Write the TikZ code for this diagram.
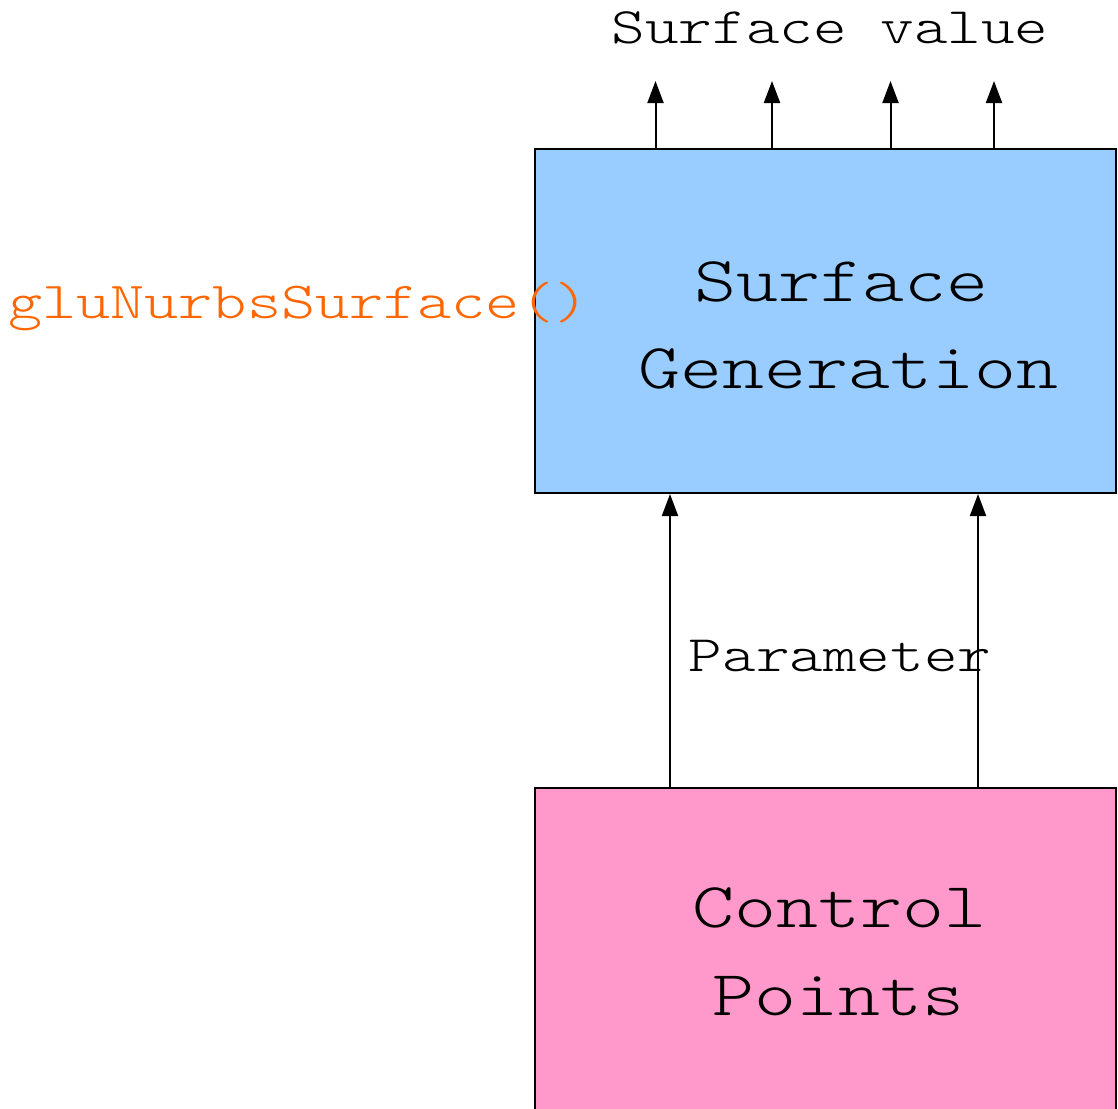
\documentclass[tikz,border=0pt]{standalone}
\usepackage{fontspec}
\usepackage{graphicx}
\newfontfamily\labelfont{Latin Modern Mono Light}
\usetikzlibrary{arrows.meta}
\definecolor{sgblue}{HTML}{99CCFF}
\definecolor{cppink}{HTML}{FF99CC}
\definecolor{fnorange}{HTML}{FF6600}
% typewriter lettering, slightly flattened to get Courier-like proportions
\newcommand\flattxt[1]{\scalebox{1}[0.8]{#1}}

\begin{document}
\begin{tikzpicture}[x=1pt,y=-1pt,
  block/.style={draw=black, line width=2pt, inner sep=0pt,
                minimum width=581pt, minimum height=344pt},
  flow/.style={line width=2pt, -{Triangle[length=22pt,width=16pt]}},
  lbl/.style={anchor=base, inner sep=0pt, font=\labelfont\fontsize{64}{70}\selectfont},
  big/.style={anchor=base, inner sep=0pt, font=\labelfont\fontsize{80}{88}\selectfont}]
\useasboundingbox (0,0) rectangle (1118,1108);
\clip (0,0) rectangle (1118,1108);

% blocks
\node[block, fill=sgblue] (sg) at (825.5,321) {};
\node[block, fill=cppink] (cp) at (825.5,960) {};

% block captions
\node[big] (sgt1) at (841.5,301) {\flattxt{Surface}};
\node[big] (sgt2) at (848,388.5) {\flattxt{Generation}};
\node[big] (cpt1) at (839,927) {\flattxt{Control}};
\node[big] (cpt2) at (838.5,1015) {\flattxt{Points}};

% outputs on top
\coordinate (o1) at (655.5,81);
\coordinate (o2) at (772,81);
\coordinate (o3) at (890.5,81);
\coordinate (o4) at (994,81);
\foreach \o in {o1,o2,o3,o4}
  \draw[flow] (sg.north -| \o) -- (\o);
\node[lbl] (out) at (830,44) {\flattxt{Surface value}};

% inputs from control points
\draw[flow] (cp.north -| 670,0) -- (sg.south -| 670,0);
\draw[flow] (cp.north -| 978,0) -- (sg.south -| 978,0);
\node[lbl] (param) at (840,671.5) {\flattxt{Parameter}};

% API call label
\node[lbl, anchor=base west, text=fnorange, font=\labelfont\fontsize{65}{70}\selectfont]
  (api) at (8,318) {\flattxt{gluNurbsSurface()}};
\end{tikzpicture}
\end{document}
